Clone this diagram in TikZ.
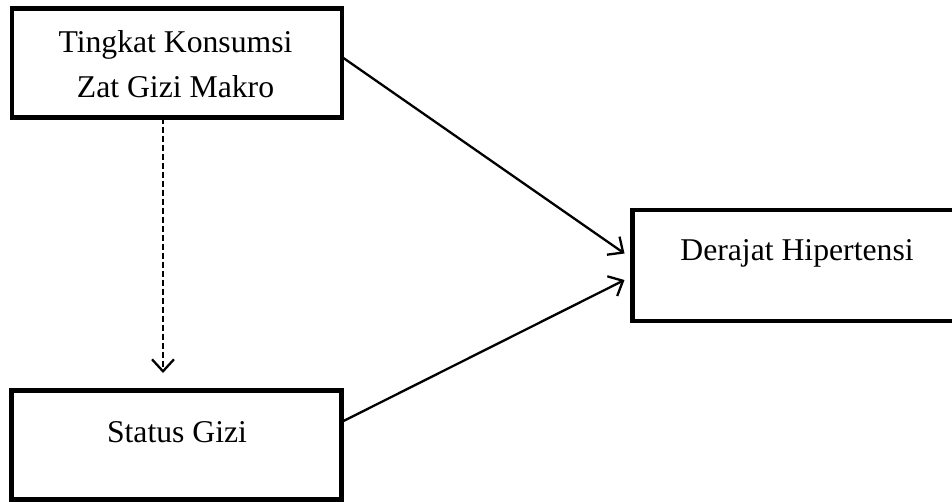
\documentclass[tikz,border=0pt]{standalone}
\usepackage{fontspec}
\setmainfont{Liberation Serif}
\usetikzlibrary{arrows.meta}
\begin{document}
\begin{tikzpicture}[x=1pt,y=-1pt,
  box/.style={draw=black,line width=4.5pt,minimum width=330pt,inner sep=0pt,outer sep=0pt,fill=white},
  lbl/.style={anchor=base,inner sep=0pt,font=\fontsize{31.7}{40}\selectfont},
  conn/.style={line width=2.3pt,-{Straight Barb[length=12pt,width=22pt,line width=2.3pt]}},
  dconn/.style={conn,dash pattern=on 6pt off 3pt}]
\useasboundingbox (0,0) rectangle (952,501);
\clip (0,0) rectangle (952,501);
\node[box,minimum height=109pt] (tk) at (177,63) {};
\node[box,minimum height=111pt] (dh) at (797.5,265.5) {};
\node[box,minimum height=109pt] (st) at (176.5,445) {};
\node[lbl] (t1) at (175.5,52) {Tingkat Konsumsi};
\node[lbl] (t2) at (175.5,97) {Zat Gizi Makro};
\node[lbl] (t3) at (797,260) {Derajat Hipertensi};
\node[lbl] (t4) at (177,442) {Status Gizi};
\draw[conn] ([yshift=6pt]tk.east) -- ([xshift=-8pt,yshift=12pt]dh.west);
\draw[conn] ([yshift=23pt]st.east) -- ([xshift=-8pt,yshift=-14.5pt]dh.west);
\draw[dconn] ([xshift=-14pt]tk.south) -- ([xshift=-13.5pt,yshift=17.5pt]st.north);
\end{tikzpicture}
\end{document}
